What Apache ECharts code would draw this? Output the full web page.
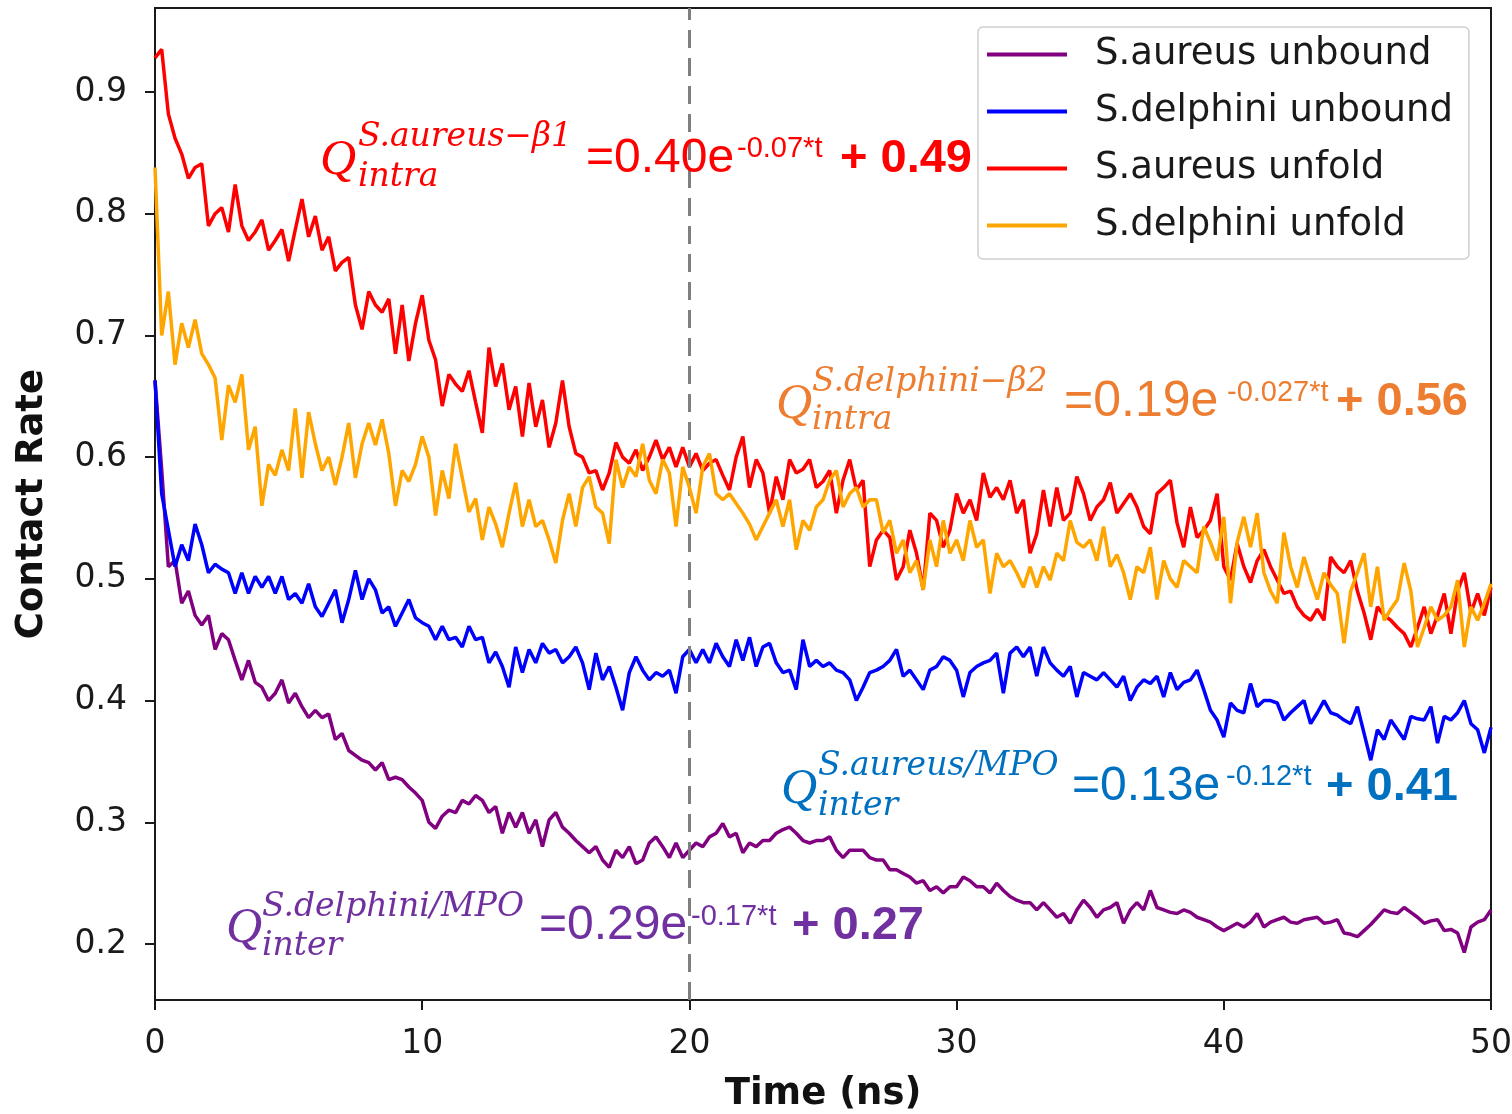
<!DOCTYPE html>
<html><head><meta charset="utf-8">
<script src="https://cdn.jsdelivr.net/npm/echarts@6.0.0/dist/echarts.min.js"></script>
<style>html,body{margin:0;padding:0;background:#fff}#c{width:1512px;height:1114px}</style>
</head><body><div id="c"></div>
<script>
// ---- data (contact rate sampled every 0.25 ns, t = 0 ... 50 ns) ----
const STEP_NS = 0.25;
const seriesNames = ['S.aureus unbound', 'S.delphini unbound', 'S.aureus unfold', 'S.delphini unfold'];
const xTickValues = [0, 10, 20, 30, 40, 50];
const yTickValues = [0.2, 0.3, 0.4, 0.5, 0.6, 0.7, 0.8, 0.9];
const markerTime = 20;

const saureusUnbound = [
0.663,0.590,0.510,0.515, 0.480,0.490,0.470,0.462, 0.470,0.442,0.455,0.450, 0.433,0.417,0.433,0.415,
0.411,0.400,0.406,0.417, 0.398,0.406,0.395,0.386, 0.392,0.386,0.389,0.368, 0.373,0.359,0.355,0.351,
0.349,0.343,0.349,0.335, 0.337,0.335,0.329,0.324, 0.318,0.300,0.295,0.305, 0.310,0.308,0.318,0.315,
0.322,0.318,0.308,0.313, 0.291,0.308,0.296,0.308, 0.291,0.302,0.280,0.302, 0.308,0.296,0.291,0.285,
0.280,0.275,0.280,0.269, 0.263,0.277,0.271,0.280, 0.266,0.269,0.283,0.288, 0.280,0.271,0.283,0.271,
0.277,0.283,0.280,0.288, 0.291,0.299,0.288,0.291, 0.275,0.283,0.280,0.285, 0.285,0.291,0.294,0.296,
0.291,0.285,0.283,0.285, 0.285,0.288,0.277,0.271, 0.277,0.277,0.277,0.271, 0.269,0.269,0.261,0.261,
0.258,0.255,0.250,0.252, 0.244,0.247,0.242,0.247, 0.247,0.255,0.252,0.247, 0.247,0.242,0.250,0.244,
0.239,0.236,0.234,0.234, 0.228,0.234,0.228,0.222, 0.225,0.217,0.228,0.236, 0.230,0.222,0.228,0.230,
0.234,0.217,0.228,0.234, 0.228,0.244,0.230,0.228, 0.226,0.225,0.228,0.226, 0.222,0.220,0.218,0.214,
0.211,0.214,0.217,0.214, 0.218,0.225,0.214,0.218, 0.220,0.222,0.218,0.217, 0.220,0.221,0.222,0.217,
0.218,0.220,0.209,0.208, 0.206,0.211,0.216,0.222, 0.228,0.226,0.225,0.230, 0.226,0.222,0.217,0.219,
0.220,0.211,0.212,0.209, 0.193,0.214,0.218,0.220, 0.228
];
const sdelphiniUnbound = [
0.663,0.570,0.540,0.510, 0.528,0.515,0.545,0.528, 0.505,0.512,0.508,0.505, 0.488,0.505,0.488,0.502,
0.493,0.502,0.488,0.502, 0.483,0.488,0.480,0.496, 0.477,0.469,0.480,0.491, 0.464,0.483,0.507,0.483,
0.500,0.491,0.472,0.477, 0.461,0.472,0.483,0.468, 0.464,0.461,0.450,0.461, 0.450,0.452,0.444,0.461,
0.450,0.452,0.431,0.440, 0.428,0.411,0.444,0.423, 0.442,0.431,0.447,0.439, 0.442,0.431,0.436,0.444,
0.431,0.409,0.439,0.417, 0.428,0.411,0.392,0.423, 0.436,0.425,0.417,0.423, 0.420,0.425,0.406,0.436,
0.442,0.431,0.442,0.431, 0.447,0.436,0.428,0.450, 0.433,0.452,0.428,0.444, 0.447,0.431,0.423,0.425,
0.409,0.450,0.428,0.433, 0.428,0.431,0.425,0.423, 0.417,0.400,0.411,0.423, 0.425,0.428,0.433,0.442,
0.420,0.425,0.417,0.409, 0.425,0.428,0.436,0.433, 0.425,0.403,0.423,0.428, 0.431,0.433,0.439,0.406,
0.439,0.444,0.436,0.444, 0.420,0.444,0.431,0.425, 0.420,0.428,0.403,0.423, 0.420,0.417,0.423,0.417,
0.411,0.420,0.400,0.411, 0.417,0.414,0.420,0.403, 0.423,0.409,0.415,0.417, 0.425,0.409,0.392,0.384,
0.370,0.398,0.392,0.390, 0.414,0.395,0.400,0.400, 0.398,0.384,0.390,0.395, 0.400,0.381,0.390,0.400,
0.390,0.388,0.384,0.381, 0.395,0.373,0.351,0.376, 0.368,0.384,0.376,0.368, 0.387,0.385,0.384,0.395,
0.365,0.387,0.384,0.390, 0.400,0.381,0.376,0.357, 0.378
];
const saureusUnfold = [
0.928,0.935,0.882,0.862, 0.849,0.829,0.838,0.841, 0.790,0.800,0.805,0.785, 0.824,0.790,0.778,0.785,
0.795,0.770,0.778,0.787, 0.761,0.787,0.812,0.781, 0.798,0.770,0.781,0.753, 0.760,0.764,0.725,0.705,
0.736,0.725,0.719,0.730, 0.685,0.725,0.679,0.710, 0.733,0.696,0.680,0.642, 0.668,0.660,0.654,0.671,
0.645,0.620,0.690,0.658, 0.677,0.639,0.658,0.617, 0.661,0.625,0.647,0.608, 0.628,0.663,0.625,0.603,
0.600,0.587,0.589,0.573, 0.587,0.612,0.600,0.595, 0.606,0.589,0.600,0.614, 0.598,0.608,0.592,0.608,
0.592,0.603,0.589,0.595, 0.598,0.585,0.573,0.600, 0.617,0.575,0.598,0.587, 0.554,0.584,0.565,0.598,
0.587,0.590,0.598,0.575, 0.580,0.589,0.554,0.581, 0.598,0.573,0.581,0.510, 0.532,0.540,0.534,0.499,
0.510,0.540,0.521,0.491, 0.554,0.548,0.526,0.540, 0.570,0.554,0.565,0.548, 0.587,0.567,0.575,0.565,
0.581,0.554,0.565,0.521, 0.537,0.573,0.543,0.575, 0.548,0.554,0.584,0.570, 0.548,0.559,0.565,0.579,
0.554,0.562,0.570,0.559, 0.543,0.537,0.570,0.575, 0.581,0.546,0.526,0.559, 0.534,0.540,0.548,0.570,
0.510,0.499,0.529,0.510, 0.497,0.515,0.524,0.510, 0.499,0.488,0.490,0.477, 0.470,0.466,0.475,0.466,
0.518,0.510,0.505,0.515, 0.490,0.472,0.450,0.477, 0.470,0.466,0.460,0.455, 0.444,0.460,0.477,0.455,
0.470,0.488,0.455,0.490, 0.505,0.472,0.488,0.470, 0.493
];
const sdelphiniUnfold = [
0.838,0.700,0.736,0.676, 0.710,0.690,0.713,0.685, 0.676,0.665,0.614,0.659, 0.645,0.668,0.606,0.625,
0.560,0.594,0.585,0.606, 0.589,0.640,0.583,0.637, 0.611,0.589,0.600,0.577, 0.600,0.628,0.583,0.611,
0.628,0.610,0.631,0.603, 0.560,0.589,0.580,0.594, 0.617,0.600,0.552,0.589, 0.566,0.611,0.583,0.555,
0.566,0.532,0.559,0.545, 0.526,0.554,0.579,0.543, 0.565,0.543,0.548,0.532, 0.513,0.548,0.570,0.543,
0.575,0.584,0.559,0.554, 0.529,0.598,0.575,0.592, 0.584,0.611,0.581,0.570, 0.598,0.587,0.543,0.592,
0.575,0.554,0.592,0.603, 0.570,0.565,0.570,0.562, 0.554,0.545,0.532,0.543, 0.554,0.565,0.543,0.565,
0.524,0.548,0.540,0.559, 0.565,0.581,0.589,0.559, 0.570,0.575,0.559,0.565, 0.565,0.538,0.548,0.521,
0.532,0.505,0.515,0.491, 0.532,0.510,0.548,0.521, 0.532,0.515,0.548,0.526, 0.532,0.488,0.521,0.510,
0.515,0.505,0.493,0.510, 0.493,0.510,0.499,0.521, 0.515,0.548,0.530,0.526, 0.532,0.515,0.543,0.510,
0.520,0.505,0.483,0.510, 0.505,0.526,0.483,0.515, 0.500,0.493,0.515,0.510, 0.505,0.543,0.530,0.515,
0.551,0.480,0.530,0.551, 0.526,0.554,0.505,0.490, 0.480,0.538,0.510,0.493, 0.518,0.500,0.483,0.505,
0.495,0.488,0.447,0.490, 0.505,0.521,0.477,0.510, 0.466,0.475,0.483,0.513, 0.490,0.444,0.460,0.477,
0.466,0.470,0.477,0.499, 0.444,0.477,0.466,0.480, 0.496
];

// fitted-equation annotations (text only)
const equations = [
  {color:'#ff0000', sup:'S.aureus\u2212\u03b21', sub:'intra', main:'=0.40e', exp:'-0.07*t', tail:'+ 0.49'},
  {color:'#ed7d31', sup:'S.delphini\u2212\u03b22', sub:'intra', main:'=0.19e', exp:'-0.027*t', tail:'+ 0.56'},
  {color:'#0070c0', sup:'S.aureus/MPO', sub:'inter', main:'=0.13e', exp:'-0.12*t', tail:'+ 0.41'},
  {color:'#7030a0', sup:'S.delphini/MPO', sub:'inter', main:'=0.29e', exp:'-0.17*t', tail:'+ 0.27'}
];
// ---- layout / style ----
const eqLayout = [
  {qx:320, qy:161, sx:358, supY:137, subY:177, mx:586, my:159, ms:48, ex:737, ey:149, tx:840},
  {qx:776, qy:405, sx:812, supY:382, subY:420, mx:1064, my:402, ms:50, ex:1227, ey:393, tx:1336},
  {qx:781, qy:790, sx:818, supY:766, subY:806, mx:1072, my:787, ms:48, ex:1226, ey:777, tx:1326},
  {qx:226, qy:929, sx:262, supY:907, subY:946, mx:539, my:926, ms:48, ex:691, ey:917, tx:792}
];
const lineColors = ['#800080', '#0000ff', '#ff0000', '#ffa500'];
const allSeries = [saureusUnbound, sdelphiniUnbound, saureusUnfold, sdelphiniUnfold];
const time = saureusUnbound.map((_, i) => i * STEP_NS);

const graphics = [];
equations.forEach((e, i) => {
  const L = eqLayout[i];
  const mk = (x, y, text, family, size, italic, bold) => ({type:'text', x, y, silent:true, z:100,
    style:{text, fill:e.color, fontFamily:family, fontSize:size,
      fontStyle: italic ? 'italic' : 'normal', fontWeight: bold ? 'bold' : 'normal',
      verticalAlign:'middle', align:'left'}});
  graphics.push(mk(L.qx, L.qy, 'Q', 'Liberation Serif', 50, true, false));
  graphics.push(mk(L.sx, L.supY, e.sup, 'DejaVu Serif', 33, true, false));
  graphics.push(mk(L.sx, L.subY, e.sub, 'DejaVu Serif', 33, true, false));
  graphics.push(mk(L.mx, L.my, e.main, 'Liberation Sans', L.ms, false, false));
  graphics.push(mk(L.ex, L.ey, e.exp, 'Liberation Sans', 29, false, false));
  graphics.push(mk(L.tx, L.my, e.tail, 'Liberation Sans', 47, false, true));
});

const axisColor = '#1a1a1a';
const chart = echarts.init(document.getElementById('c'), null, {renderer:'canvas'});
chart.setOption({
  animation:false,
  backgroundColor:'#fff',
  grid:{left:155, right:21, top:8, bottom:114, show:true, borderColor:axisColor, borderWidth:2,
    backgroundColor:'transparent', containLabel:false, outerBoundsMode:'none'},
  legend:{
    orient:'vertical', left:978, top:27,
    data:seriesNames, icon:'rect', itemWidth:80, itemHeight:4, itemGap:20,
    padding:[9,16,15,9],
    borderColor:'#cfcfcf', borderWidth:1.5, borderRadius:5, backgroundColor:'rgba(255,255,255,0.85)',
    textStyle:{fontSize:37, lineHeight:36, fontFamily:'DejaVu Sans', color:'#1a1a1a', padding:[0,0,0,23]}
  },
  xAxis:{
    type:'value', min:xTickValues[0], max:xTickValues[xTickValues.length-1], interval:10,
    axisLine:{show:true, lineStyle:{color:axisColor, width:2}},
    axisTick:{show:true, inside:false, length:10, lineStyle:{color:axisColor, width:2}},
    axisLabel:{fontSize:33, fontFamily:'DejaVu Sans', color:'#1a1a1a', margin:28},
    splitLine:{show:false},
    name:'Time (ns)', nameLocation:'middle', nameGap:76,
    nameTextStyle:{fontSize:37, fontWeight:'bold', fontFamily:'DejaVu Sans', color:'#111'}
  },
  yAxis:{
    type:'value', min:0.154, max:0.969,
    axisLine:{show:true, lineStyle:{color:axisColor, width:2}},
    axisTick:{show:true, inside:false, length:10, lineStyle:{color:axisColor, width:2}, customValues:yTickValues},
    axisLabel:{fontSize:33, fontFamily:'DejaVu Sans', color:'#1a1a1a', margin:28, customValues:yTickValues,
      formatter:v => v.toFixed(1)},
    splitLine:{show:false},
    name:'Contact Rate', nameLocation:'middle', nameGap:104,
    nameTextStyle:{fontSize:37, fontWeight:'bold', fontFamily:'DejaVu Sans', color:'#111'}
  },
  series: allSeries.map((arr, k) => ({
    name:seriesNames[k], type:'line', showSymbol:false, symbol:'none',
    data: arr.map((v, i) => [time[i], v]),
    lineStyle:{color:lineColors[k], width:3.5}, itemStyle:{color:lineColors[k]},
    z: 2 + k,
    markLine: k === 0 ? {silent:true, symbol:'none', label:{show:false},
      lineStyle:{color:'#7f7f7f', type:[18,10], width:3}, data:[{xAxis:markerTime}]} : undefined
  })),
  graphic: graphics
});
</script></body></html>
